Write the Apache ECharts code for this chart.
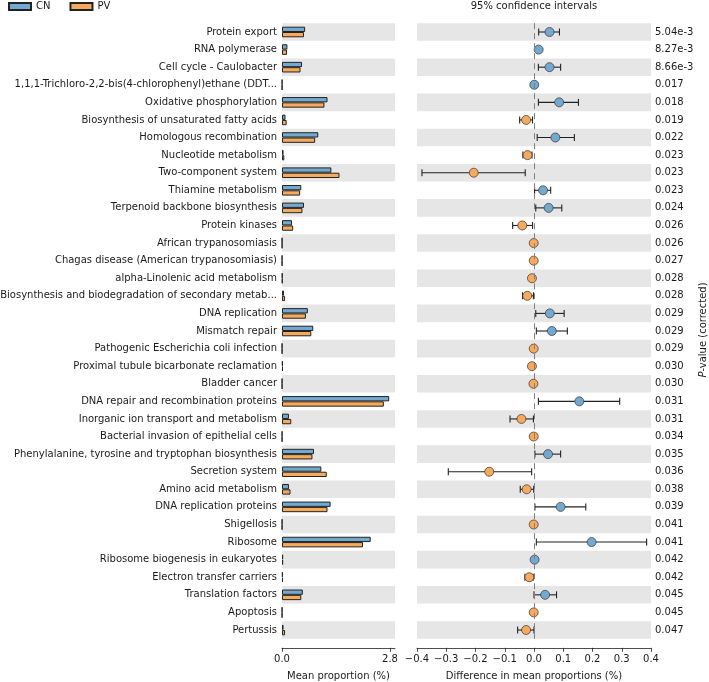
<!DOCTYPE html>
<html>
<head>
<meta charset="utf-8">
<script src="https://cdn.jsdelivr.net/npm/echarts@6/dist/echarts.min.js"></script>
<style>html,body{margin:0;padding:0;background:#fff}#c{width:709px;height:682px}</style>
</head>
<body>
<div id="c"></div>
<script>
const categories = [
  'Protein export','RNA polymerase','Cell cycle - Caulobacter',
  '1,1,1-Trichloro-2,2-bis(4-chlorophenyl)ethane (DDT...',
  'Oxidative phosphorylation','Biosynthesis of unsaturated fatty acids',
  'Homologous recombination','Nucleotide metabolism','Two-component system',
  'Thiamine metabolism','Terpenoid backbone biosynthesis','Protein kinases',
  'African trypanosomiasis','Chagas disease (American trypanosomiasis)',
  'alpha-Linolenic acid metabolism','Biosynthesis and biodegradation of secondary metab...',
  'DNA replication','Mismatch repair','Pathogenic Escherichia coli infection',
  'Proximal tubule bicarbonate reclamation','Bladder cancer',
  'DNA repair and recombination proteins','Inorganic ion transport and metabolism',
  'Bacterial invasion of epithelial cells','Phenylalanine, tyrosine and tryptophan biosynthesis',
  'Secretion system','Amino acid metabolism','DNA replication proteins','Shigellosis',
  'Ribosome','Ribosome biogenesis in eukaryotes','Electron transfer carriers',
  'Translation factors','Apoptosis','Pertussis'
];
const pValues = ['5.04e-3','8.27e-3','8.66e-3','0.017','0.018','0.019','0.022','0.023','0.023','0.023',
  '0.024','0.026','0.026','0.027','0.028','0.028','0.029','0.029','0.029','0.030','0.030',
  '0.031','0.031','0.034','0.035','0.036','0.038','0.039','0.041','0.041','0.042','0.042',
  '0.045','0.045','0.047'];
const cnMean = [0.60,0.14,0.52,0.005,1.18,0.09,0.94,0.04,1.28,0.50,0.57,0.26,0.003,0.003,0.01,0.05,
  0.67,0.81,0.003,0.02,0.003,2.78,0.18,0.003,0.83,1.02,0.18,1.26,0.003,2.30,0.03,0.02,0.54,0.003,0.04];
const pvMean = [0.57,0.13,0.48,0.004,1.10,0.12,0.86,0.06,1.49,0.47,0.53,0.29,0.004,0.004,0.012,0.08,
  0.62,0.76,0.004,0.025,0.004,2.64,0.24,0.004,0.79,1.16,0.22,1.18,0.004,2.10,0.03,0.025,0.50,0.004,0.08];
const diffMean = [0.053,0.016,0.053,0.001,0.086,-0.027,0.073,-0.022,-0.206,0.031,0.050,-0.040,-0.001,-0.001,
  -0.007,-0.023,0.054,0.061,-0.001,-0.007,-0.002,0.155,-0.043,-0.001,0.048,-0.153,-0.025,0.091,-0.001,
  0.197,0.002,-0.016,0.038,-0.001,-0.027];
const ciLow = [0.016,0.010,0.015,0.000,0.015,-0.049,0.011,-0.038,-0.383,0.002,0.006,-0.073,-0.002,-0.002,
  -0.009,-0.039,0.006,0.008,-0.002,-0.009,-0.003,0.015,-0.082,-0.002,0.003,-0.293,-0.047,0.003,-0.002,
  0.008,0.001,-0.031,0.000,-0.002,-0.056];
const ciHigh = [0.087,0.022,0.091,0.002,0.152,-0.005,0.138,-0.007,-0.030,0.057,0.095,-0.005,0.000,0.000,
  -0.005,-0.002,0.103,0.114,0.000,-0.005,-0.001,0.293,-0.002,0.000,0.091,-0.008,-0.001,0.177,0.000,
  0.385,0.003,-0.003,0.077,0.000,0.000];
const groupNames = ['CN','PV'];
const meanTicks = [0, 2.8];

const BLUE = '#74a9cf', ORANGE = '#f7a95c', TXT = '#1a1a1a', BAND = '#e6e6e6';
const font = 'DejaVu Sans';

const chart = echarts.init(document.getElementById('c'), null, {renderer: 'canvas'});
const gridTop = 23.2, gridH = 615.6;

const option = {
  animation: false,
  textStyle: {fontFamily: font, color: TXT},
  legend: {
    left: 8, top: 1.5, padding: 0, itemWidth: 22, itemHeight: 7, itemGap: 19,
    textStyle: {fontSize: 10, color: TXT, fontFamily: font},
    data: groupNames.map(n => ({name: n, icon: 'rect'}))
  },
  graphic: [
    {type: 'text', x: 534, y: 6, style: {text: '95% confidence intervals', font: '10px "DejaVu Sans"', fill: TXT, align: 'center', verticalAlign: 'middle'}},
    {type: 'text', x: 703, y: 330, rotation: Math.PI / 2,
     style: {text: '{i|P}-value (corrected)', align: 'center', verticalAlign: 'middle', fill: TXT,
       font: '10px "DejaVu Sans"',
       rich: {i: {fontStyle: 'italic', fontFamily: font, fontSize: 10, fill: TXT}}}}
  ],
  grid: [
    {left: 282, width: 113, top: gridTop, height: gridH, containLabel: false, outerBoundsMode: 'none'},
    {left: 417, right: 58, top: gridTop, height: gridH, containLabel: false, outerBoundsMode: 'none'}
  ],
  xAxis: [
    {gridIndex: 0, type: 'value', min: 0, max: 2.93, offset: 9,
     axisLine: {show: true, lineStyle: {color: '#222', width: 0.8}},
     axisTick: {show: true, length: 4, customValues: meanTicks, lineStyle: {color: '#222', width: 0.8}},
     axisLabel: {customValues: meanTicks, formatter: v => v.toFixed(1), fontSize: 10, color: TXT, margin: 7},
     splitLine: {show: false},
     name: 'Mean proportion (%)', nameLocation: 'middle', nameGap: 24,
     nameTextStyle: {fontSize: 10, color: TXT, verticalAlign: 'top'}},
    {gridIndex: 1, type: 'value', min: -0.4, max: 0.4, interval: 0.1, offset: 9,
     axisLine: {show: true, lineStyle: {color: '#222', width: 0.8}},
     axisTick: {show: true, length: 4, lineStyle: {color: '#222', width: 0.8}},
     axisLabel: {formatter: v => (v < -1e-9 ? '\u2212' : '') + Math.abs(v).toFixed(1), fontSize: 10, color: TXT, margin: 7},
     splitLine: {show: false},
     name: 'Difference in mean proportions (%)', nameLocation: 'middle', nameGap: 24,
     nameTextStyle: {fontSize: 10, color: TXT, verticalAlign: 'top'}}
  ],
  yAxis: [
    {gridIndex: 0, type: 'category', data: categories, inverse: true,
     axisLine: {show: false}, axisTick: {show: false},
     axisLabel: {fontSize: 10, color: TXT, margin: 5, interval: 0},
     splitLine: {show: false},
     splitArea: {show: true, areaStyle: {color: [BAND, 'rgba(255,255,255,0)']}}},
    {gridIndex: 1, type: 'category', data: categories, inverse: true,
     axisLine: {show: false}, axisTick: {show: false}, axisLabel: {show: false},
     splitLine: {show: false},
     splitArea: {show: true, areaStyle: {color: [BAND, 'rgba(255,255,255,0)']}}},
    {gridIndex: 1, type: 'category', data: pValues, inverse: true, position: 'right',
     axisLine: {show: false}, axisTick: {show: false},
     axisLabel: {fontSize: 10, color: TXT, margin: 4, interval: 0},
     splitLine: {show: false}, splitArea: {show: false}}
  ],
  series: [
    {name: groupNames[0], type: 'bar', xAxisIndex: 0, yAxisIndex: 0, data: cnMean,
     barWidth: 5.3, barGap: '0%',
     itemStyle: {color: BLUE, borderColor: '#222', borderWidth: 1}},
    {name: groupNames[1], type: 'bar', xAxisIndex: 0, yAxisIndex: 0, data: pvMean,
     barWidth: 5.3, barGap: '0%',
     itemStyle: {color: ORANGE, borderColor: '#222', borderWidth: 1}},
    {type: 'custom', xAxisIndex: 1, yAxisIndex: 1, z: 3,
     data: ciLow.map((lo, i) => [lo, ciHigh[i], i]),
     renderItem: function (params, api) {
       const lo = api.value(0), hi = api.value(1), row = api.value(2);
       const p1 = api.coord([lo, row]), p2 = api.coord([hi, row]);
       const h = 3.5;
       const st = {stroke: '#222', lineWidth: 1.1};
       return {type: 'group', children: [
         {type: 'line', shape: {x1: p1[0], y1: p1[1], x2: p2[0], y2: p2[1]}, style: st},
         {type: 'line', shape: {x1: p1[0], y1: p1[1] - h, x2: p1[0], y2: p1[1] + h}, style: st},
         {type: 'line', shape: {x1: p2[0], y1: p2[1] - h, x2: p2[0], y2: p2[1] + h}, style: st}
       ]};
     }},
    {type: 'scatter', xAxisIndex: 1, yAxisIndex: 1, z: 4,
     data: diffMean.map((d, i) => [d, i]),
     symbolSize: 9,
     itemStyle: {color: p => p.value[0] >= 0 ? BLUE : ORANGE, borderColor: '#333', borderWidth: 0.7, opacity: 1},
     markLine: {silent: true, symbol: 'none', label: {show: false},
       lineStyle: {color: '#808080', type: [6, 4], width: 1},
       data: [{xAxis: 0}]}}
  ]
};
chart.setOption(option);
</script>
</body>
</html>
